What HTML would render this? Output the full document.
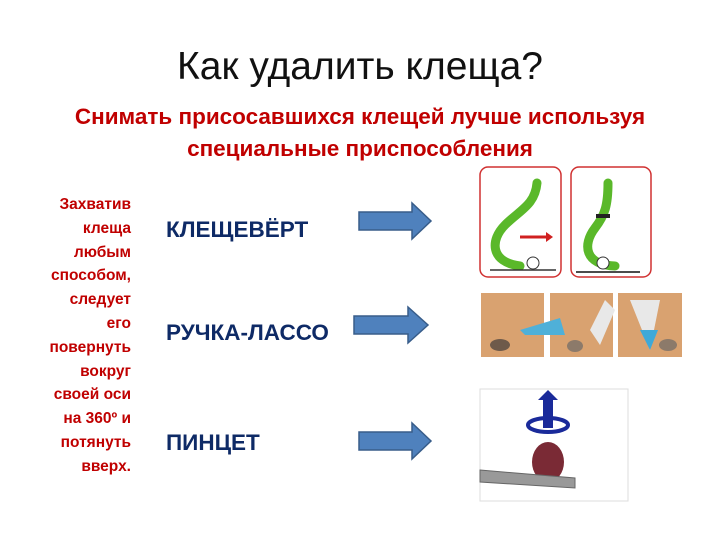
<!DOCTYPE html>
<html><head><meta charset="utf-8"><style>
body{margin:0;width:720px;height:540px;background:#fff;position:relative;overflow:hidden;font-family:"Liberation Sans","DejaVu Sans",sans-serif}
.a{position:absolute}
.t{left:0;width:720px;text-align:center;top:45px;font-size:39px;color:#111}
.s{left:0;width:720px;text-align:center;top:101px;font-size:22.5px;font-weight:bold;color:#c00000;line-height:32px}
.l{left:0px;width:131px;text-align:right;top:193px;font-size:15.5px;font-weight:bold;color:#c00000;line-height:23.8px}
.n{left:166px;font-size:22.5px;font-weight:bold;color:#0e2a66}
</style></head><body>
<div class="a t">Как удалить клеща?</div>
<div class="a s">Снимать присосавшихся клещей лучше используя<br>специальные приспособления</div>
<div class="a l">Захватив<br>клеща<br>любым<br>способом,<br>следует<br>его<br>повернуть<br>вокруг<br>своей оси<br>на 360º и<br>потянуть<br>вверх.</div>
<div class="a n" style="top:217px">КЛЕЩЕВЁРТ</div>
<div class="a n" style="top:320px">РУЧКА-ЛАССО</div>
<div class="a n" style="top:430px">ПИНЦЕТ</div>
<svg class="a" style="left:0;top:0" width="720" height="540">
<g fill="#4f81bd" stroke="#385d8a" stroke-width="1.5">
<polygon points="359,212 412,212 412,203 431,221 412,239 412,230 359,230"/>
<polygon points="354,316 408,316 408,307 428,325 408,343 408,334 354,334"/>
<polygon points="359,432 412,432 412,423 431,441 412,459 412,450 359,450"/>
</g>
<g fill="none" stroke="#d03030" stroke-width="1.5">
<rect x="480" y="167" width="81" height="110" rx="8"/>
<rect x="571" y="167" width="80" height="110" rx="8"/>
</g>
<g stroke="#5ab82a" stroke-width="9" fill="none" stroke-linecap="round">
<path d="M537,183 C535,205 520,210 505,225 C490,240 490,262 520,266"/>
<path d="M608,183 C608,205 605,215 595,228 C582,245 585,265 615,266"/>
</g>
<path d="M520,237 L546,237" stroke="#d02020" stroke-width="3"/><polygon points="546,232 553,237 546,242" fill="#d02020"/>
<line x1="490" y1="270" x2="556" y2="270" stroke="#333" stroke-width="1.5"/>
<line x1="576" y1="272" x2="640" y2="272" stroke="#111" stroke-width="1.5"/>
<circle cx="533" cy="263" r="6" fill="#fff" stroke="#333"/><circle cx="603" cy="263" r="6" fill="#fff" stroke="#333"/>
<rect x="596" y="214" width="14" height="4" fill="#222"/>
<rect x="481" y="293" width="63" height="64" fill="#d9a270"/>
<rect x="550" y="293" width="63" height="64" fill="#d9a270"/>
<rect x="618" y="293" width="64" height="64" fill="#d9a270"/>
<polygon points="520,330 560,318 565,335 525,335" fill="#4fb0d8"/>
<polygon points="590,330 605,300 615,310 600,345" fill="#e8e8e8"/>
<polygon points="630,300 660,300 650,350" fill="#e8e8e8"/>
<polygon points="640,330 658,330 650,350" fill="#3fa9d8"/>
<ellipse cx="500" cy="345" rx="10" ry="6" fill="#6e5a4a"/><ellipse cx="575" cy="346" rx="8" ry="6" fill="#8c7a6a"/><ellipse cx="668" cy="345" rx="9" ry="6" fill="#8c7a6a"/>
<rect x="480" y="389" width="148" height="112" fill="#fff" stroke="#ddd"/>
<ellipse cx="548" cy="425" rx="20" ry="7" fill="none" stroke="#1a2a9a" stroke-width="4"/>
<rect x="543" y="398" width="10" height="30" fill="#1a2a9a"/><polygon points="538,400 548,390 558,400" fill="#1a2a9a"/>
<ellipse cx="548" cy="462" rx="16" ry="20" fill="#7a2a35"/>
<polygon points="480,470 575,478 575,488 480,482" fill="#999" stroke="#666"/>
</svg>
</body></html>
